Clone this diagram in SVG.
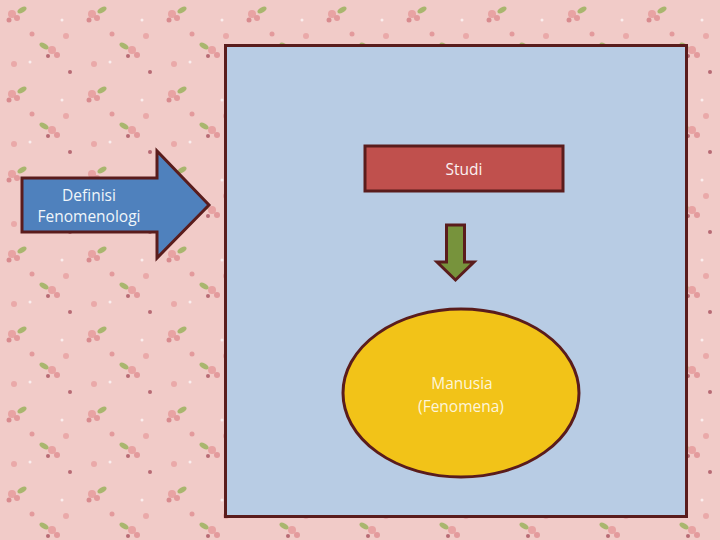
<svg xmlns="http://www.w3.org/2000/svg" width="720" height="540" viewBox="0 0 720 540">
<style>
.shape{stroke:#5a1c1c;stroke-width:3}
.lbl{font-family:"Open Sans","Liberation Sans",sans-serif;font-size:15.5px;text-anchor:middle}
</style>
<defs>
<pattern id="floral" width="80" height="80" patternUnits="userSpaceOnUse">
<rect width="80" height="80" fill="#f1cbc8"/>
<circle cx="12" cy="14" r="4" fill="#e8a3a3"/>
<circle cx="17" cy="18" r="3" fill="#e39a9c"/>
<circle cx="9" cy="20" r="2.5" fill="#d98b8f"/>
<ellipse cx="22" cy="10" rx="5" ry="2.5" fill="#a9b66e" transform="rotate(-30 22 10)"/>
<circle cx="52" cy="50" r="4" fill="#e8a3a3"/>
<circle cx="57" cy="55" r="3" fill="#e39a9c"/>
<circle cx="48" cy="56" r="2" fill="#b86a74"/>
<ellipse cx="44" cy="46" rx="5" ry="2.5" fill="#a9b66e" transform="rotate(30 44 46)"/>
<circle cx="62" cy="20" r="1.5" fill="#fbeeee"/>
<circle cx="30" cy="62" r="1.5" fill="#fbeeee"/>
<circle cx="70" cy="72" r="2" fill="#b86a74"/>
<circle cx="32" cy="34" r="2.5" fill="#e39a9c"/>
<circle cx="66" cy="36" r="3" fill="#eaa9a9"/>
<circle cx="14" cy="64" r="3" fill="#eaa9a9"/>
</pattern>
</defs>
<rect width="720" height="540" fill="url(#floral)"/>
<g id="panel"><rect class="shape" x="225.5" y="45.5" width="461" height="471" fill="#b8cce4"/></g>
<g id="definisi">
<polygon class="shape" points="22,178 157,178 157,151 209,205 157,258 157,232 22,232" fill="#4f81bd"/>
<text class="lbl" x="89" y="201" fill="#f0f6fa">Definisi</text>
<text class="lbl" x="89" y="222" fill="#f0f6fa">Fenomenologi</text>
</g>
<g id="studi">
<rect class="shape" x="365" y="146" width="198" height="45" fill="#c0504d"/>
<text class="lbl" x="464" y="175" fill="#fbf1f1">Studi</text>
</g>
<g id="connectors">
<polygon class="shape" points="446.5,225 464.5,225 464.5,262 474,262 455.5,280 437,262 446.5,262" fill="#77933c"/>
</g>
<g id="manusia">
<ellipse class="shape" cx="461" cy="393" rx="118" ry="84" fill="#f2c318"/>
<text class="lbl" x="462" y="389" fill="#fdf5d8">Manusia</text>
<text class="lbl" x="461" y="412" fill="#fdf5d8">(Fenomena)</text>
</g>
</svg>
